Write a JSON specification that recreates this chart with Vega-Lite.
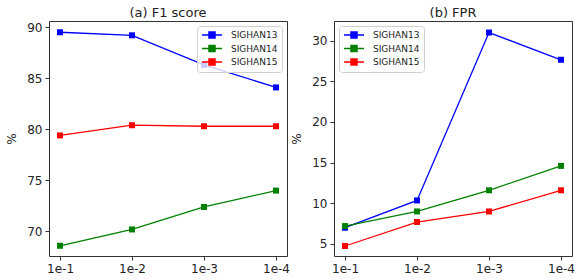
{
  "$schema": "https://vega.github.io/schema/vega-lite/v6.json",
  "padding": {"left": 5, "top": 6, "right": 2, "bottom": 4},
  "background": "white",
  "config": {
    "font": "DejaVu Sans",
    "view": {"stroke": "#333", "strokeWidth": 1},
    "axis": {
      "grid": false, "domain": false, "tickSize": 4, "tickColor": "#333", "tickWidth": 1,
      "labelFont": "DejaVu Sans", "labelFontSize": 12, "labelColor": "#222", "labelPadding": 3,
      "titleFont": "DejaVu Sans", "titleFontSize": 12, "titleFontWeight": "normal", "titleColor": "#222"
    },
    "title": {"font": "DejaVu Sans", "fontSize": 13, "fontWeight": "normal", "color": "#222", "offset": 1},
    "legend": {
      "labelFont": "DejaVu Sans", "labelFontSize": 9, "labelColor": "#222",
      "symbolType": "M-2.5,0H2.5M-0.75,-0.75H0.75V0.75H-0.75Z", "symbolSize": 64, "symbolStrokeWidth": 1.5,
      "symbolOffset": 6, "padding": 4, "rowPadding": 1.5, "labelOffset": 14, "offset": 5,
      "strokeColor": "#d0d0d0", "fillColor": "rgba(255,255,255,0.8)", "cornerRadius": 3, "title": null
    }
  },
  "datasets": {
    "f1": [
      {"lr": "1e-1", "dataset": "SIGHAN13", "value": 89.5},
      {"lr": "1e-2", "dataset": "SIGHAN13", "value": 89.2},
      {"lr": "1e-3", "dataset": "SIGHAN13", "value": 86.3},
      {"lr": "1e-4", "dataset": "SIGHAN13", "value": 84.1},
      {"lr": "1e-1", "dataset": "SIGHAN14", "value": 68.6},
      {"lr": "1e-2", "dataset": "SIGHAN14", "value": 70.2},
      {"lr": "1e-3", "dataset": "SIGHAN14", "value": 72.4},
      {"lr": "1e-4", "dataset": "SIGHAN14", "value": 74.0},
      {"lr": "1e-1", "dataset": "SIGHAN15", "value": 79.4},
      {"lr": "1e-2", "dataset": "SIGHAN15", "value": 80.4},
      {"lr": "1e-3", "dataset": "SIGHAN15", "value": 80.3},
      {"lr": "1e-4", "dataset": "SIGHAN15", "value": 80.3}
    ],
    "fpr": [
      {"lr": "1e-1", "dataset": "SIGHAN13", "value": 7.0},
      {"lr": "1e-2", "dataset": "SIGHAN13", "value": 10.35},
      {"lr": "1e-3", "dataset": "SIGHAN13", "value": 31.0},
      {"lr": "1e-4", "dataset": "SIGHAN13", "value": 27.65},
      {"lr": "1e-1", "dataset": "SIGHAN14", "value": 7.2},
      {"lr": "1e-2", "dataset": "SIGHAN14", "value": 9.0},
      {"lr": "1e-3", "dataset": "SIGHAN14", "value": 11.6},
      {"lr": "1e-4", "dataset": "SIGHAN14", "value": 14.6},
      {"lr": "1e-1", "dataset": "SIGHAN15", "value": 4.75},
      {"lr": "1e-2", "dataset": "SIGHAN15", "value": 7.7},
      {"lr": "1e-3", "dataset": "SIGHAN15", "value": 9.0},
      {"lr": "1e-4", "dataset": "SIGHAN15", "value": 11.6}
    ]
  },
  "bounds": "flush",
  "spacing": 47,
  "resolve": {"legend": {"color": "independent"}},
  "hconcat": [
    {
      "title": "(a) F1 score",
      "width": 238,
      "height": 235,
      "data": {"name": "f1"},
      "mark": {"type": "line", "strokeWidth": 1.3, "point": {"shape": "square", "filled": true, "size": 36, "opacity": 1}},
      "encoding": {
        "x": {"field": "lr", "type": "ordinal", "sort": ["1e-1", "1e-2", "1e-3", "1e-4"], "scale": {"type": "point", "padding": 0.153}, "axis": {"title": null, "labelAngle": 0}},
        "y": {"field": "value", "type": "quantitative", "scale": {"domain": [67.6, 90.6], "nice": false, "zero": false}, "axis": {"title": "%", "values": [70, 75, 80, 85, 90], "titlePadding": 8}},
        "color": {"field": "dataset", "type": "nominal", "scale": {"domain": ["SIGHAN13", "SIGHAN14", "SIGHAN15"], "range": ["#0000ff", "#008000", "#ff0000"]},
          "legend": {"orient": "top-right", "encode": {"symbols": {"update": {"fill": {"scale": "color", "field": "value"}, "stroke": {"scale": "color", "field": "value"}}}}}}
      }
    },
    {
      "title": "(b) FPR",
      "width": 238,
      "height": 235,
      "data": {"name": "fpr"},
      "mark": {"type": "line", "strokeWidth": 1.3, "point": {"shape": "square", "filled": true, "size": 36, "opacity": 1}},
      "encoding": {
        "x": {"field": "lr", "type": "ordinal", "sort": ["1e-1", "1e-2", "1e-3", "1e-4"], "scale": {"type": "point", "padding": 0.153}, "axis": {"title": null, "labelAngle": 0}},
        "y": {"field": "value", "type": "quantitative", "scale": {"domain": [3.52, 32.42], "nice": false, "zero": false}, "axis": {"title": "%", "values": [5, 10, 15, 20, 25, 30], "titlePadding": 8}},
        "color": {"field": "dataset", "type": "nominal", "scale": {"domain": ["SIGHAN13", "SIGHAN14", "SIGHAN15"], "range": ["#0000ff", "#008000", "#ff0000"]},
          "legend": {"orient": "top-left", "encode": {"symbols": {"update": {"fill": {"scale": "color", "field": "value"}, "stroke": {"scale": "color", "field": "value"}}}}}}
      }
    }
  ]
}
